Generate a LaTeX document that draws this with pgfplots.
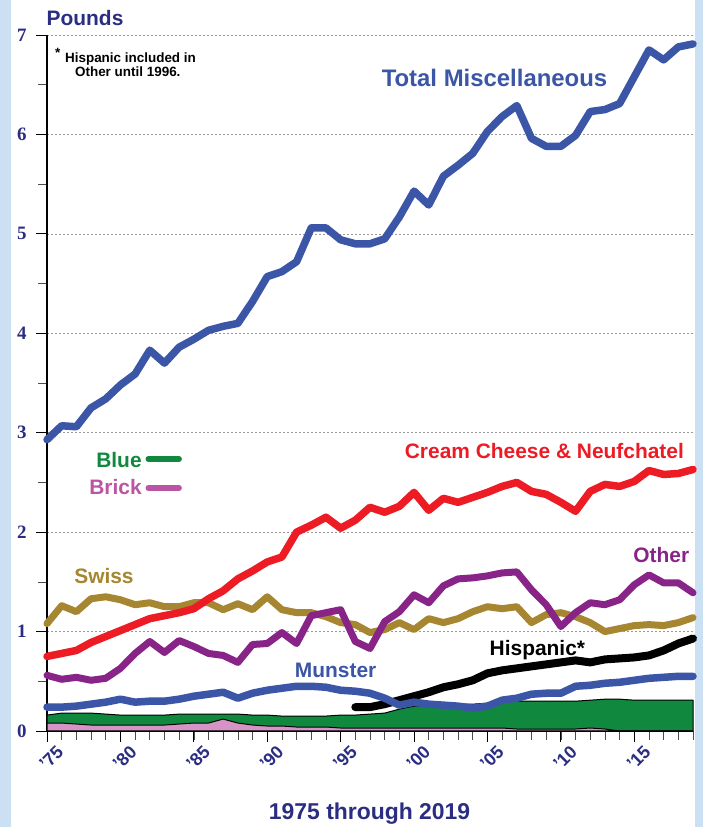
\documentclass[border=0pt]{standalone}
\usepackage{pgfplots}
\pgfplotsset{compat=1.18}
\usepackage{pgfplotstable}
\usepackage{fontspec}
\setmainfont{Liberation Sans}
\newfontfamily\serifb{Liberation Serif}
\definecolor{bgblue}{RGB}{203,224,243}
\definecolor{navy}{RGB}{43,45,130}
\definecolor{cblue}{RGB}{59,86,166}
\definecolor{cred}{RGB}{237,28,36}
\definecolor{cpurple}{RGB}{136,36,136}
\definecolor{cgold}{RGB}{166,134,48}
\definecolor{cgreen}{RGB}{16,137,62}
\definecolor{cpink}{RGB}{214,148,198}
\definecolor{cbrick}{RGB}{188,84,164}

\pgfplotstableread{
year total cream swiss other munster bluetop bricktop
1975 2.93 0.75 1.08 0.56 0.24 0.16 0.08
1976 3.07 0.78 1.26 0.52 0.24 0.18 0.08
1977 3.06 0.81 1.20 0.54 0.25 0.18 0.07
1978 3.25 0.89 1.33 0.51 0.27 0.18 0.06
1979 3.34 0.95 1.35 0.53 0.29 0.17 0.06
1980 3.48 1.01 1.32 0.63 0.32 0.16 0.06
1981 3.59 1.07 1.27 0.78 0.29 0.16 0.06
1982 3.83 1.13 1.29 0.90 0.30 0.16 0.06
1983 3.70 1.16 1.25 0.79 0.30 0.16 0.06
1984 3.86 1.19 1.25 0.91 0.32 0.17 0.07
1985 3.94 1.23 1.29 0.85 0.35 0.17 0.08
1986 4.03 1.33 1.29 0.78 0.37 0.17 0.08
1987 4.07 1.41 1.22 0.76 0.39 0.17 0.12
1988 4.10 1.53 1.28 0.69 0.33 0.17 0.08
1989 4.32 1.61 1.22 0.87 0.38 0.16 0.06
1990 4.57 1.70 1.35 0.88 0.41 0.16 0.05
1991 4.62 1.75 1.22 0.99 0.43 0.15 0.05
1992 4.72 2.00 1.19 0.88 0.45 0.15 0.04
1993 5.06 2.07 1.19 1.16 0.45 0.15 0.04
1994 5.06 2.15 1.15 1.19 0.44 0.15 0.04
1995 4.94 2.04 1.09 1.22 0.41 0.16 0.03
1996 4.90 2.12 1.07 0.90 0.40 0.16 0.03
1997 4.90 2.25 0.99 0.83 0.38 0.17 0.03
1998 4.95 2.20 1.02 1.10 0.33 0.18 0.03
1999 5.17 2.26 1.09 1.20 0.26 0.22 0.03
2000 5.43 2.40 1.02 1.37 0.29 0.25 0.03
2001 5.29 2.22 1.13 1.29 0.27 0.26 0.03
2002 5.58 2.34 1.09 1.46 0.26 0.27 0.03
2003 5.69 2.30 1.13 1.53 0.25 0.27 0.03
2004 5.81 2.35 1.20 1.54 0.23 0.27 0.03
2005 6.03 2.40 1.25 1.56 0.25 0.28 0.03
2006 6.18 2.46 1.23 1.59 0.31 0.29 0.03
2007 6.29 2.50 1.25 1.60 0.33 0.30 0.02
2008 5.96 2.41 1.09 1.42 0.37 0.30 0.02
2009 5.88 2.38 1.17 1.27 0.38 0.30 0.02
2010 5.88 2.30 1.19 1.05 0.38 0.30 0.02
2011 5.99 2.21 1.15 1.19 0.45 0.30 0.02
2012 6.23 2.41 1.09 1.29 0.46 0.31 0.03
2013 6.25 2.48 1.00 1.27 0.48 0.32 0.02
2014 6.31 2.46 1.03 1.32 0.49 0.32 0.00
2015 6.58 2.51 1.06 1.47 0.51 0.31 0.00
2016 6.85 2.62 1.07 1.57 0.53 0.31 0.00
2017 6.75 2.58 1.06 1.49 0.54 0.31 0.00
2018 6.88 2.59 1.09 1.49 0.55 0.31 0.00
2019 6.91 2.63 1.14 1.39 0.55 0.31 0.00
}\cheese

\pgfplotstableread{
year hisp
1996 0.24
1997 0.24
1998 0.27
1999 0.31
2000 0.35
2001 0.39
2002 0.44
2003 0.47
2004 0.51
2005 0.58
2006 0.61
2007 0.63
2008 0.65
2009 0.67
2010 0.69
2011 0.71
2012 0.69
2013 0.72
2014 0.73
2015 0.74
2016 0.76
2017 0.81
2018 0.88
2019 0.93
}\hisp

\newcommand{\lab}{\fontsize{21}{21}\selectfont\bfseries}
\begin{document}
\begin{tikzpicture}
\fill[bgblue] (0,0) rectangle (703bp,827bp);
\fill[white] (11bp,0) rectangle (695bp,827bp);
\begin{axis}[
  at={(47bp,96bp)}, anchor=south west,
  scale only axis, width=646bp, height=696bp,
  xmin=1975, xmax=2019, ymin=0, ymax=7,
  clip=false,
  axis x line*=bottom, axis y line*=left,
  axis line style={line width=1.3bp, black, -},
  xtick={1975,1980,...,2015},
  xticklabels={'75,'80,'85,'90,'95,'00,'05,'10,'15},
  minor xtick={1975,...,2019},
  ytick={0,...,7}, minor ytick={0.5,1.5,...,6.5},
  ymajorgrids,
  grid style={dash pattern=on 2bp off 2bp, gray!80, line width=0.7bp},
  tick align=outside, major tick length=11bp, minor tick length=9bp,
  tick style={line width=0.9bp, black},
  minor tick style={line width=0.6bp, black!70},
  /pgf/number format/assume math mode=true,
  yticklabel style={font=\serifb\fontsize{19}{19}\selectfont\bfseries, text=navy, xshift=-6bp},
  xticklabel style={font=\fontsize{18}{18}\selectfont\bfseries, text=navy, rotate=45, anchor=east, xshift=8bp, yshift=-14bp},
  every axis plot/.append style={line join=round, line cap=round},
]
% areas
\addplot[fill=cgreen, draw=black, line width=1bp, line cap=butt] table[x=year,y=bluetop]{\cheese} \closedcycle;
\addplot[fill=cpink, draw=black, line width=1bp, line cap=butt] table[x=year,y=bricktop]{\cheese} \closedcycle;
% lines
\addplot[black, line width=8bp] table[x=year,y=hisp]{\hisp};
\addplot[cblue, line width=7.5bp] table[x=year,y=munster]{\cheese};
\addplot[cgold, line width=7bp] table[x=year,y=swiss]{\cheese};
\addplot[cpurple, line width=7bp] table[x=year,y=other]{\cheese};
\addplot[cred, line width=7.5bp] table[x=year,y=cream]{\cheese};
\addplot[cblue, line width=7.5bp] table[x=year,y=total]{\cheese};
% key samples
\addplot[cgreen, line width=5.5bp] coordinates {(1981.9,2.736) (1984.0,2.736)};
\addplot[cbrick, line width=5.5bp] coordinates {(1981.9,2.444) (1984.0,2.444)};
% labels
\node[anchor=base, text=cblue, font=\fontsize{24}{24}\selectfont\bfseries] at (axis cs:2005.48,6.487) {Total Miscellaneous};
\node[anchor=base, text=cred, font=\lab] at (axis cs:2008.88,2.736) {Cream Cheese \& Neufchatel};
\node[anchor=base, text=cpurple, font=\lab] at (axis cs:2016.84,1.69) {Other};
\node[anchor=base, text=cgold, font=\lab] at (axis cs:1978.88,1.488) {Swiss};
\node[anchor=base, text=cblue, font=\lab] at (axis cs:1994.66,0.543) {Munster};
\node[anchor=base, text=black, font=\lab] at (axis cs:2008.4,0.764) {Hispanic*};
\node[anchor=base east, text=cgreen, font=\lab, inner sep=0pt] at (axis cs:1981.46,2.655) {Blue};
\node[anchor=base east, text=cbrick, font=\lab, inner sep=0pt] at (axis cs:1981.46,2.374) {Brick};
\node[anchor=base, text=navy, font=\fontsize{21}{21}\selectfont\bfseries] at (axis cs:1977.59,7.10) {Pounds};
\node[anchor=base, text=navy, font=\fontsize{23}{23}\selectfont\bfseries] at (axis cs:1996.97,-0.895) {1975 through 2019};
\node[anchor=base west, inner sep=0pt, font=\fontsize{13.5}{13.5}\selectfont\bfseries] at (axis cs:1975.54,6.77) {*};
\node[anchor=base west, inner sep=0pt, font=\fontsize{13.5}{13.5}\selectfont\bfseries] at (axis cs:1976.22,6.728) {Hispanic included in};
\node[anchor=base west, inner sep=0pt, font=\fontsize{13.5}{13.5}\selectfont\bfseries] at (axis cs:1976.9,6.587) {Other until 1996.};
\end{axis}
\pgfresetboundingbox
\useasboundingbox (0,0) rectangle (703bp,827bp);
\end{tikzpicture}
\end{document}
